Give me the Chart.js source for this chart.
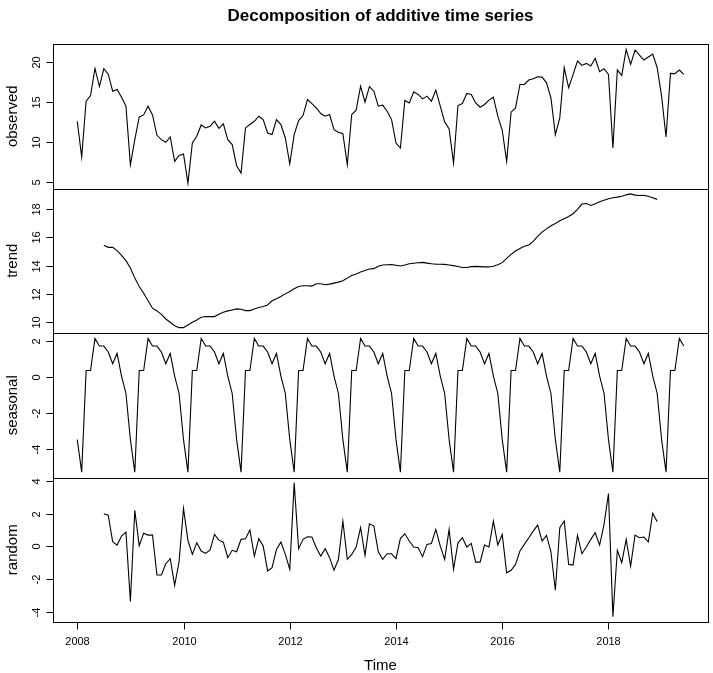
<!DOCTYPE html>
<html>
<head>
<meta charset="utf-8">
<script src="https://cdn.jsdelivr.net/npm/chart.js@4.4.0/dist/chart.umd.min.js"></script>
<style>
  html, body { margin:0; padding:0; background:#fff; }
  canvas { display:block; }
</style>
</head>
<body>
<canvas id="c" width="713" height="673"></canvas>
<script>
'use strict';

// monthly series, Jan 2008 .. Jun 2019
const startYear = 2008;
const freq = 12;

const observed = [
  12.58, 8.12, 15.08, 15.79, 19.16, 16.91, 19.12, 18.45, 16.33, 16.54, 15.58, 14.45,
  7.16, 10.29, 13.12, 13.37, 14.45, 13.37, 10.83, 10.29, 9.96, 10.62, 7.58, 8.33,
  8.50, 4.87, 9.87, 10.71, 12.12, 11.75, 11.96, 12.58, 11.70, 12.25, 10.29, 9.67,
  7.04, 6.12, 11.75, 12.17, 12.58, 13.21, 12.79, 11.12, 10.92, 12.79, 12.17, 10.50,
  7.29, 10.92, 12.67, 13.29, 15.29, 14.79, 14.25, 13.54, 13.21, 13.42, 11.54, 11.21,
  11.04, 7.17, 13.42, 13.96, 16.96, 14.96, 16.90, 16.33, 14.46, 14.58, 13.83, 12.79,
  9.87, 9.25, 15.17, 14.87, 16.25, 15.92, 15.37, 15.71, 15.08, 16.46, 14.46, 12.50,
  11.62, 7.37, 14.54, 14.79, 16.04, 15.92, 14.87, 14.33, 14.67, 15.21, 15.58, 13.21,
  11.46, 7.58, 13.71, 14.25, 17.17, 17.17, 17.71, 17.87, 18.12, 18.08, 17.37, 15.50,
  10.92, 13.00, 19.25, 16.75, 18.40, 20.08, 19.54, 19.79, 19.46, 20.42, 18.75, 19.12,
  18.42, 9.25, 18.96, 18.29, 21.54, 19.67, 21.46, 20.83, 20.21, 20.58, 20.96, 19.25,
  15.71, 10.62, 18.54, 18.50, 18.96, 18.42
];

// trend and random are missing for the first and last 6 months (Jul 2008 .. Dec 2018)
const trendStart = 6;
const trend = [
  15.42, 15.28, 15.28, 15.05, 14.72, 14.34,
  13.82, 13.11, 12.52, 12.05, 11.51, 10.99, 10.80, 10.56, 10.23, 10.00, 9.76, 9.62,
  9.62, 9.81, 10.00, 10.16, 10.35, 10.40, 10.40, 10.40, 10.56, 10.71, 10.80, 10.87,
  10.94, 10.92, 10.82, 10.82, 10.94, 11.04, 11.11, 11.22, 11.51, 11.65, 11.81, 12.00,
  12.17, 12.36, 12.52, 12.57, 12.57, 12.55, 12.71, 12.71, 12.64, 12.69, 12.76, 12.83,
  12.92, 13.11, 13.30, 13.40, 13.54, 13.65, 13.75, 13.78, 13.95, 14.04, 14.05, 14.06,
  14.02, 13.97, 14.04, 14.12, 14.16, 14.19, 14.22, 14.17, 14.12, 14.10, 14.09, 14.08,
  14.04, 13.99, 13.93, 13.86, 13.86, 13.92, 13.94, 13.92, 13.90, 13.90, 13.95, 14.05,
  14.20, 14.50, 14.78, 15.02, 15.20, 15.35, 15.45, 15.70, 16.05, 16.35, 16.58, 16.80,
  16.96, 17.15, 17.30, 17.45, 17.65, 17.95, 18.33, 18.37, 18.23, 18.35, 18.50, 18.60,
  18.70, 18.77, 18.82, 18.88, 18.98, 19.05, 18.96, 18.93, 18.94, 18.88, 18.78, 18.66
];

const seasonal = [
  -3.49, -5.30, 0.36, 0.36, 2.15, 1.72, 1.72, 1.39, 0.74, 1.31, 0.05, -0.92,
  -3.49, -5.30, 0.36, 0.36, 2.15, 1.72, 1.72, 1.39, 0.74, 1.31, 0.05, -0.92,
  -3.49, -5.30, 0.36, 0.36, 2.15, 1.72, 1.72, 1.39, 0.74, 1.31, 0.05, -0.92,
  -3.49, -5.30, 0.36, 0.36, 2.15, 1.72, 1.72, 1.39, 0.74, 1.31, 0.05, -0.92,
  -3.49, -5.30, 0.36, 0.36, 2.15, 1.72, 1.72, 1.39, 0.74, 1.31, 0.05, -0.92,
  -3.49, -5.30, 0.36, 0.36, 2.15, 1.72, 1.72, 1.39, 0.74, 1.31, 0.05, -0.92,
  -3.49, -5.30, 0.36, 0.36, 2.15, 1.72, 1.72, 1.39, 0.74, 1.31, 0.05, -0.92,
  -3.49, -5.30, 0.36, 0.36, 2.15, 1.72, 1.72, 1.39, 0.74, 1.31, 0.05, -0.92,
  -3.49, -5.30, 0.36, 0.36, 2.15, 1.72, 1.72, 1.39, 0.74, 1.31, 0.05, -0.92,
  -3.49, -5.30, 0.36, 0.36, 2.15, 1.72, 1.72, 1.39, 0.74, 1.31, 0.05, -0.92,
  -3.49, -5.30, 0.36, 0.36, 2.15, 1.72, 1.72, 1.39, 0.74, 1.31, 0.05, -0.92,
  -3.49, -5.30, 0.36, 0.36, 2.15, 1.72
];

const random = [
  1.99, 1.91, 0.28, 0.08, 0.63, 0.87,
  -3.37, 2.20, 0.04, 0.81, 0.69, 0.69, -1.75, -1.75, -1.06, -0.75, -2.38, -0.94,
  2.32, 0.37, -0.49, 0.22, -0.28, -0.43, -0.21, 0.73, 0.38, 0.26, -0.69, -0.24,
  -0.33, 0.43, 0.47, 1.00, -0.59, 0.47, 0.02, -1.50, -1.30, -0.18, 0.26, -0.49,
  -1.40, 3.88, -0.14, 0.43, 0.59, 0.57, -0.08, -0.59, -0.14, -0.69, -1.46, -0.79,
  1.54, -0.79, -0.49, -0.04, 1.14, -0.55, 1.38, 1.24, -0.33, -0.79, -0.45, -0.45,
  -0.75, 0.49, 0.77, 0.33, -0.04, -0.08, -0.63, 0.12, 0.18, 1.04, 0.02, -0.79,
  1.04, -1.40, 0.22, 0.53, -0.04, 0.18, -0.96, -0.96, 0.08, -0.04, 1.54, 0.08,
  0.73, -1.61, -1.46, -1.10, -0.28, 0.12, 0.53, 0.93, 1.30, 0.32, 0.67, -0.33,
  -2.68, 1.14, 1.55, -1.10, -1.14, 0.67, -0.45, -0.04, 0.43, 0.83, 0.08, 1.34,
  3.23, -4.29, -0.24, -0.99, 0.43, -1.20, 0.69, 0.53, 0.57, 0.28, 2.03, 1.50
];

// axis ticks
const xTicks = [2008, 2010, 2012, 2014, 2016, 2018];
const obsTicks = [5, 10, 15, 20];
const trendTicks = [10, 12, 14, 16, 18];
const seasTicks = [-4, -2, 0, 2];
const randTicks = [-4, -2, 0, 2, 4];

const FONT = '"Liberation Sans", Arial, Helvetica, sans-serif';

function toPoints(values, offset) {
  return values.map((v, i) => ({ x: startYear + (i + offset) / freq, y: v }));
}

// R pads the data range by 4% on each side
function padRange(vals) {
  const lo = Math.min(...vals), hi = Math.max(...vals), d = (hi - lo) * 0.04;
  return { min: lo - d, max: hi + d };
}

const PANELS = [
  { id: 'yObs',   title: 'observed', ticks: obsTicks,   vals: observed, off: 0 },
  { id: 'yTrend', title: 'trend',    ticks: trendTicks, vals: trend,    off: trendStart },
  { id: 'ySeas',  title: 'seasonal', ticks: seasTicks,  vals: seasonal, off: 0 },
  { id: 'yRand',  title: 'random',   ticks: randTicks,  vals: random,   off: trendStart },
];

const xEnd = startYear + (observed.length - 1) / freq;
const xPad = (xEnd - startYear) * 0.04;

const scales = {
  x: {
    type: 'linear', position: 'bottom',
    min: startYear - xPad, max: xEnd + xPad,
    grid: { display:false }, border: { display:false },
    ticks: { display:false },
    afterFit: s => { s.height = 51; }
  }
};
PANELS.forEach((p, i) => {
  const r = padRange(p.vals);
  scales[p.id] = {
    type: 'linear', position: 'left',
    stack: 'decomp', stackWeight: 1, weight: PANELS.length - i,
    min: r.min, max: r.max,
    grid: { display:false }, border: { display:false },
    ticks: { display:false },
    afterFit: s => { s.width = 53; }
  };
});

// draws boxes, R-style axes, labels and title
const rDecor = {
  id: 'rDecor',
  afterDraw(chart) {
    const ctx = chart.ctx, a = chart.chartArea, xs = chart.scales.x;
    const L = Math.round(a.left) + 0.5, R = Math.round(a.right) + 0.5;
    ctx.save();
    ctx.strokeStyle = '#000';
    ctx.fillStyle = '#000';
    ctx.lineWidth = 1;

    PANELS.forEach(p => {
      const s = chart.scales[p.id];
      const T = Math.round(s.top) + 0.5, B = Math.round(s.bottom) + 0.5;
      ctx.strokeRect(L, T, R - L, B - T);

      ctx.font = '11px ' + FONT;
      ctx.textAlign = 'center';
      ctx.textBaseline = 'alphabetic';
      p.ticks.forEach(v => {
        const y = Math.round(s.getPixelForValue(v)) + 0.5;
        ctx.beginPath(); ctx.moveTo(L, y); ctx.lineTo(L - 7, y); ctx.stroke();
        ctx.save();
        ctx.translate(L - 14, y);
        ctx.rotate(-Math.PI / 2);
        ctx.fillText(String(v), 0, 0);
        ctx.restore();
      });

      ctx.font = '15px ' + FONT;
      ctx.save();
      ctx.translate(17, (s.top + s.bottom) / 2);
      ctx.rotate(-Math.PI / 2);
      ctx.fillText(p.title, 0, 0);
      ctx.restore();
    });

    // time axis
    const bottom = Math.round(a.bottom) + 0.5;
    ctx.font = '11px ' + FONT;
    ctx.textAlign = 'center';
    ctx.textBaseline = 'middle';
    ctx.beginPath();
    ctx.moveTo(Math.round(xs.getPixelForValue(xTicks[0])) + 0.5, bottom);
    ctx.lineTo(Math.round(xs.getPixelForValue(xTicks[xTicks.length - 1])) + 0.5, bottom);
    ctx.stroke();
    xTicks.forEach(t => {
      const x = Math.round(xs.getPixelForValue(t)) + 0.5;
      ctx.beginPath(); ctx.moveTo(x, bottom); ctx.lineTo(x, bottom + 7); ctx.stroke();
      ctx.fillText(String(t), x, bottom + 19);
    });
    ctx.font = '15px ' + FONT;
    ctx.fillText('Time', (a.left + a.right) / 2, bottom + 43);

    ctx.font = 'bold 17px ' + FONT;
    ctx.fillText('Decomposition of additive time series', (a.left + a.right) / 2, 16);
    ctx.restore();
  }
};

new Chart(document.getElementById('c'), {
  type: 'line',
  data: {
    datasets: PANELS.map(p => ({
      label: p.title,
      data: toPoints(p.vals, p.off),
      yAxisID: p.id,
      borderColor: '#000',
      borderWidth: 1.1,
      pointRadius: 0,
      tension: 0,
      fill: false
    }))
  },
  options: {
    responsive: false,
    animation: false,
    devicePixelRatio: 1,
    layout: { padding: { top: 44, right: 5, left: 0, bottom: 0 } },
    plugins: { legend: { display:false }, tooltip: { enabled:false }, title: { display:false } },
    scales
  },
  plugins: [rDecor]
});
</script>
</body>
</html>
